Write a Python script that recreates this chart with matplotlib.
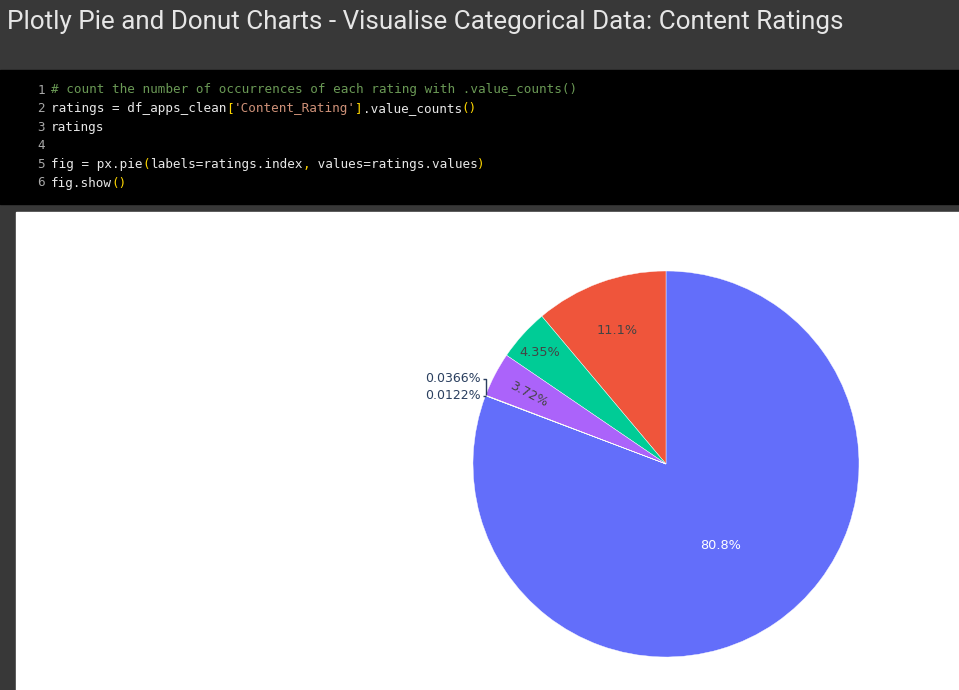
import numpy as np
import matplotlib.pyplot as plt
from matplotlib.patches import Rectangle

# datos: conteo de Content_Rating (value_counts)
rating_labels = ['Everyone', 'Teen', 'Mature 17+', 'Everyone 10+', 'Adults only 18+', 'Unrated']
rating_counts = [6621, 912, 357, 305, 3, 1]
slice_colors = ['#636EFA', '#EF553B', '#00CC96', '#AB63FA', '#FFA15A', '#19D3F3']

title_text = 'Plotly Pie and Donut Charts - Visualise Categorical Data: Content Ratings'
code_lines = [
    [("# count the number of occurrences of each rating with .value_counts()", '#6A9955')],
    [("ratings = df_apps_clean", '#E8E8E8'), ("[", '#FFD700'), ("'Content_Rating'", '#CE9178'),
     ("]", '#FFD700'), (".value_counts", '#E8E8E8'), ("()", '#FFD700')],
    [("ratings", '#E8E8E8')],
    [],
    [("fig = px.pie", '#E8E8E8'), ("(", '#FFD700'), ("labels=ratings.index", '#E8E8E8'),
     (",", '#FFD700'), (" values=ratings.values", '#E8E8E8'), (")", '#FFD700')],
    [("fig.show", '#E8E8E8'), ("()", '#FFD700')],
]

W, H = 959, 690
fig = plt.figure(figsize=(W / 100, H / 100), dpi=100, facecolor='#383838')

# ------------------------------
# fondo del notebook (coordenadas en pixeles)
bg = fig.add_axes([0, 0, 1, 1])
bg.set_xlim(0, W)
bg.set_ylim(H, 0)
bg.axis('off')
bg.add_patch(Rectangle((0, 70), W, 134, color='#000000'))
bg.add_patch(Rectangle((16, 212), W - 16, H - 212, color='#FFFFFF'))

bg.text(7, 22, title_text, fontsize=18.7, family='Roboto', color='#E6E6E6', va='center', ha='left')

# celda de codigo
mono = 'DejaVu Sans Mono'
code_fs = 9.1
char_w = 0.602 * code_fs * 100 / 72  # ancho de un caracter monoespaciado en px
for i, parts in enumerate(code_lines):
    y = 90 + i * 18.6
    bg.text(45, y, str(i + 1), fontsize=code_fs, family=mono, color='#A8A8A8', va='center', ha='right')
    x = 51
    for txt, col in parts:
        bg.text(x, y, txt, fontsize=code_fs, family=mono, color=col, va='center', ha='left')
        x += len(txt) * char_w

# ------------------------------
# grafico de pastel
cx, cy, R = 666, 464, 193
L = 1.3
S = 2 * L * R
ax = fig.add_axes([(cx - S / 2) / W, 1 - (cy + S / 2) / H, S / W, S / H])

fracs = np.array(rating_counts) / sum(rating_counts)
start = 90 - fracs[0] * 360
wedges, _ = ax.pie(rating_counts, colors=slice_colors, startangle=start, counterclock=True,
                   radius=1, wedgeprops=dict(linewidth=0.3, edgecolor='#FFFFFF'))
ax.set_xlim(-L, L)
ax.set_ylim(-L, L)
ax.axis('off')

# etiquetas dentro
inner_r = [0.5, 0.745, 0.88, 0.80]
inner_col = ['#FFFFFF', '#444444', '#444444', '#444444']
for k in range(4):
    w = wedges[k]
    mid = np.deg2rad((w.theta1 + w.theta2) / 2)
    rot = 0
    if k == 3:
        rot = np.rad2deg(mid) - 180
    ax.text(inner_r[k] * np.cos(mid), inner_r[k] * np.sin(mid) - 0.01, f'{fracs[k] * 100:.3g}%',
            ha='center', va='center', fontsize=9.3, family='DejaVu Sans', color=inner_col[k],
            rotation=rot, rotation_mode='anchor')

# etiquetas fuera (porciones pequeñas)
for k, dy in [(4, 0.085), (5, 0.0)]:
    w = wedges[k]
    mid = np.deg2rad((w.theta1 + w.theta2) / 2)
    x0, y0 = np.cos(mid), np.sin(mid)
    ax.plot([x0, x0, x0 - 0.015], [y0, y0 + dy, y0 + dy], color='#2A3F5F', lw=1.0,
            solid_capstyle='butt')
    ax.text(x0 - 0.025, y0 + dy, f'{fracs[k] * 100:.3g}%', ha='right', va='center',
            fontsize=9.0, family='DejaVu Sans', color='#2A3F5F')

fig.savefig('out.png', dpi=100, facecolor=fig.get_facecolor())
